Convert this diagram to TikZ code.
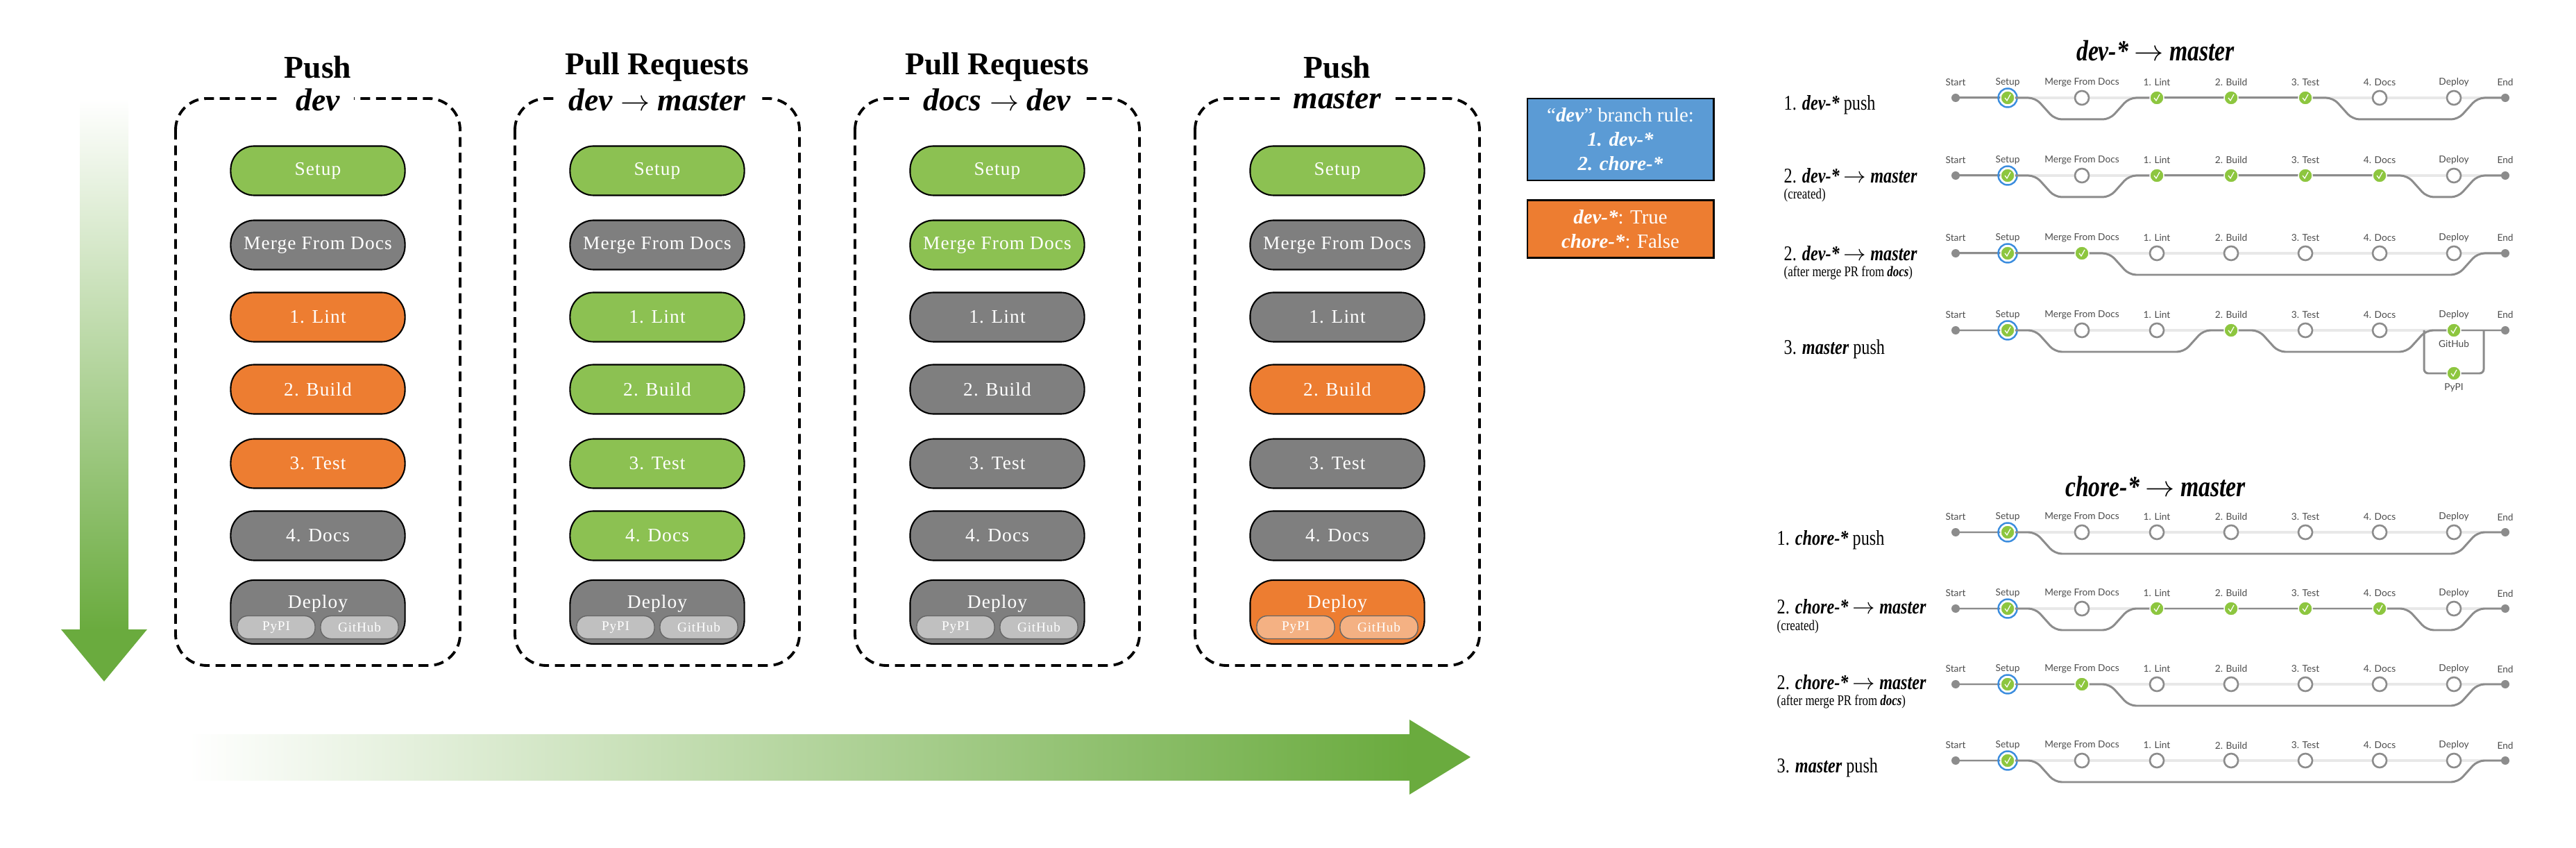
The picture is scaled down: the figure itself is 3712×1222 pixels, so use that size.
\documentclass[tikz,border=0pt]{standalone}
\usepackage{fontspec}
\setmainfont{Liberation Serif}
\newfontfamily\lato{Lato}
\newfontfamily\pillfont{Liberation Serif}[LetterSpace=4]
\newfontfamily\narrowfont{Liberation Serif}[FakeStretch=0.8]
\usetikzlibrary{calc}
\definecolor{cgreen}{HTML}{8CC152}
\definecolor{cgray}{HTML}{7F7F7F}
\definecolor{corange}{HTML}{ED7D31}
\definecolor{cblue}{HTML}{5B9BD5}
\definecolor{csub}{HTML}{C0C0C0}
\definecolor{csubo}{HTML}{F4B183}
\definecolor{carrow}{HTML}{6AAB3E}
\definecolor{pgreen}{HTML}{8DC63F}
\definecolor{pring}{HTML}{3C8DDE}
\definecolor{pline}{HTML}{8C8C8C}
\definecolor{ptrack}{HTML}{E8E8E8}
\tikzset{
 pill/.style={rounded corners=0.34cm, draw=black, line width=0.6pt, minimum width=2.51cm, minimum height=0.71cm, inner xsep=1pt, text=white, font=\pillfont\fontsize{7.8}{9}\selectfont},
 sub/.style={rounded corners=0.15cm, draw=black!60, line width=0.4pt, fill=csub, minimum width=1.12cm, minimum height=0.33cm, inner sep=0pt, text=white, font=\pillfont\fontsize{5.5}{6}\selectfont},
 frame/.style={draw=black, line width=1.1pt, dash pattern=on 4pt off 2.4pt, rounded corners=0.45cm},
 ttl/.style={font=\fontsize{13}{14}\selectfont\bfseries},
 stl/.style={font=\fontsize{13}{14}\selectfont\bfseries\itshape, fill=white, inner xsep=0.2cm, inner ysep=1pt},
 plab/.style={font=\lato\fontsize{3.9}{4}\selectfont, text=black!70},
 track/.style={ptrack, line width=1.1pt},
 act/.style={pline, line width=0.85pt},
 pend/.style={circle, fill=pline, minimum size=0.12cm, inner sep=0pt},
 so/.style={circle, fill=white, draw=pline, line width=0.75pt, minimum size=0.2cm, inner sep=0pt},
 sg/.style={circle, fill=pgreen, draw=white, line width=0.4pt, minimum size=0.2cm, inner sep=0pt,
   path picture={\draw[white, line width=0.35pt] ($(path picture bounding box.center)+(-4,0)$) -- ($(path picture bounding box.center)+(-1,4)$) -- ($(path picture bounding box.center)+(4,-5)$);}},
 rowl/.style={anchor=west, inner xsep=0pt, font=\narrowfont\fontsize{8.6}{10}\selectfont},
 rows/.style={anchor=west, inner xsep=0pt, font=\narrowfont\fontsize{6}{7}\selectfont},
 sect/.style={font=\narrowfont\fontsize{12}{13}\selectfont\bfseries\itshape},
 legend/.style={draw=black, line width=0.8pt, text=white, align=center, minimum width=2.68cm, font=\fontsize{8.2}{10}\selectfont}
}
\newcommand\pbase[1]{%
 \draw[track] (2818,#1) -- (3610,#1);
 \foreach \xx/\tt in {2818/Start,2893/Setup,3000/Merge From Docs,3108/1. Lint,3215/2. Build,3322/3. Test,3429/4. Docs,3536/Deploy,3610/End}
   \node[plab] at (\xx,#1-22) {\tt};
 \draw[act] (2818,#1) -- (2893,#1);
 \draw[pring, line width=0.7pt] (2893,#1) circle (0.135cm);}
\newcommand\pdip[3]{\draw[act, rounded corners=0.1cm] (#1,#3) -- (#1+40,#3) -- (#1+68,#3+31) -- (#2-68,#3+31) -- (#2-40,#3) -- (#2,#3);}
\newcommand\pseg[3]{\draw[act] (#1,#3) -- (#2,#3);}
\newcommand\pnodes[3]{%
 \node[pend] (#1s) at (2818,#2) {};
 \node[pend] (#1e) at (3610,#2) {};
 \foreach \xx/\ss [count=\i] in {#3} \node[\ss] (#1n\i) at (\xx,#2) {};}
\newcommand\colbox[4]{% x, title, subtitle, name
 \draw[frame] (#1-205,142) rectangle (#1+205,959);
 \node[ttl] (#4t) at (#1,97) {#2};
 \node[stl] (#4s) at (#1,144) {#3};}
\newcommand\pills[9]{% x, name, 7 colours
 \node[pill, fill=#3] (#2a) at (#1,246) {Setup};
 \node[pill, fill=#4] (#2b) at (#1,353) {Merge From Docs};
 \node[pill, fill=#5] (#2c) at (#1,457) {1. Lint};
 \node[pill, fill=#6] (#2d) at (#1,561) {2. Build};
 \node[pill, fill=#7] (#2e) at (#1,668) {3. Test};
 \node[pill, fill=#8] (#2f) at (#1,772) {4. Docs};
 \node[pill, fill=#9, minimum height=0.92cm, text depth=0.3cm] (#2g) at (#1,882) {Deploy};}
\newcommand\subs[3]{%
 \node[sub, fill=#3] (#2p) at (#1-60,904) {PyPI};
 \node[sub, fill=#3] (#2h) at (#1+60,904) {GitHub};}
\begin{document}
\begin{tikzpicture}[x=0.01cm, y=-0.01cm]
\useasboundingbox (0,0) rectangle (3712,1222);
% arrows
\shade[top color=white, bottom color=carrow] (115,142) rectangle (185,908);
\fill[carrow] (88,907) -- (212,907) -- (150,982) -- cycle;
\shade[left color=white, right color=carrow] (272,1058) rectangle (2032,1124);
\fill[carrow] (2031,1037) -- (2119,1091) -- (2031,1145) -- cycle;
% columns
\colbox{458}{Push}{dev}{c1}
\pills{458}{p1}{cgreen}{cgray}{corange}{corange}{corange}{cgray}{cgray}
\subs{458}{p1}{csub}
\colbox{947}{Pull Requests}{dev $\rightarrow$ master}{c2}
\pills{947}{p2}{cgreen}{cgray}{cgreen}{cgreen}{cgreen}{cgreen}{cgray}
\subs{947}{p2}{csub}
\colbox{1437}{Pull Requests}{docs $\rightarrow$ dev}{c3}
\pills{1437}{p3}{cgreen}{cgreen}{cgray}{cgray}{cgray}{cgray}{cgray}
\subs{1437}{p3}{csub}
\colbox{1927}{Push}{master}{c4}
\pills{1927}{p4}{cgreen}{cgray}{cgray}{corange}{cgray}{cgray}{corange}
\subs{1927}{p4}{csubo}
% legends
\node[legend, fill=cblue, minimum height=1.18cm] (lg1) at (2335,201) {``\textbf{\textit{dev}}'' branch rule:\\ \textbf{\textit{1. dev-*}}\\ \textbf{\textit{2. chore-*}}};
\node[legend, fill=corange, minimum height=0.83cm] (lg2) at (2335,330) {\textbf{\textit{dev-*}}: True\\ \textbf{\textit{chore-*}}: False};
% dev section
\node[sect] (t1) at (3106,73) {dev-* $\rightarrow$ master};
\node[rowl] (d1l) at (2570,151) {1. \textbf{\textit{dev-*}} push};
\pbase{141}
\pdip{2893}{3108}{141} \pseg{3108}{3322}{141} \pdip{3322}{3610}{141}
\pnodes{d1}{141}{2893/sg,3000/so,3108/sg,3215/sg,3322/sg,3429/so,3536/so}
\node[rowl] (d2l) at (2570,253) {2. \textbf{\textit{dev-*}} $\rightarrow$ \textbf{\textit{master}}};
\node[rows] (d2m) at (2570,281) {(created)};
\pbase{253}
\pdip{2893}{3108}{253} \pseg{3108}{3429}{253} \pdip{3429}{3610}{253}
\pnodes{d2}{253}{2893/sg,3000/so,3108/sg,3215/sg,3322/sg,3429/sg,3536/so}
\node[rowl] (d3l) at (2570,365) {2. \textbf{\textit{dev-*}} $\rightarrow$ \textbf{\textit{master}}};
\node[rows] (d3m) at (2570,393) {(after merge PR from \textbf{\textit{docs}})};
\pbase{365}
\pseg{2893}{3000}{365} \pdip{3000}{3610}{365}
\pnodes{d3}{365}{2893/sg,3000/sg,3108/so,3215/so,3322/so,3429/so,3536/so}
\node[rowl] (d4l) at (2570,503) {3. \textbf{\textit{master}} push};
\pbase{476}
\pdip{2893}{3215}{476} \pdip{3215}{3536}{476} \pseg{3536}{3610}{476}
\draw[act, rounded corners=0.06cm] (3493,476) -- (3493,538) -- (3579,538) -- (3579,476);
\pnodes{d4}{476}{2893/sg,3000/so,3108/so,3215/sg,3322/so,3429/so,3536/sg}
\node[sg] (d4py) at (3536,538) {};
\node[plab] at (3536,496) {GitHub};
\node[plab] at (3536,559) {PyPI};
% chore section
\node[sect] (t2) at (3106,701) {chore-* $\rightarrow$ master};
\node[rowl] (c1l) at (2560,778) {1. \textbf{\textit{chore-*}} push};
\pbase{767}
\pdip{2893}{3610}{767}
\pnodes{e1}{767}{2893/sg,3000/so,3108/so,3215/so,3322/so,3429/so,3536/so}
\node[rowl] (c2l) at (2560,874) {2. \textbf{\textit{chore-*}} $\rightarrow$ \textbf{\textit{master}}};
\node[rows] (c2m) at (2560,903) {(created)};
\pbase{877}
\pdip{2893}{3108}{877} \pseg{3108}{3429}{877} \pdip{3429}{3610}{877}
\pnodes{e2}{877}{2893/sg,3000/so,3108/sg,3215/sg,3322/sg,3429/sg,3536/so}
\node[rowl] (c3l) at (2560,983) {2. \textbf{\textit{chore-*}} $\rightarrow$ \textbf{\textit{master}}};
\node[rows] (c3m) at (2560,1011) {(after merge PR from \textbf{\textit{docs}})};
\pbase{986}
\pseg{2893}{3000}{986} \pdip{3000}{3610}{986}
\pnodes{e3}{986}{2893/sg,3000/sg,3108/so,3215/so,3322/so,3429/so,3536/so}
\node[rowl] (c4l) at (2560,1106) {3. \textbf{\textit{master}} push};
\pbase{1096}
\pdip{2893}{3610}{1096}
\pnodes{e4}{1096}{2893/sg,3000/so,3108/so,3215/so,3322/so,3429/so,3536/so}
\end{tikzpicture}
\end{document}
